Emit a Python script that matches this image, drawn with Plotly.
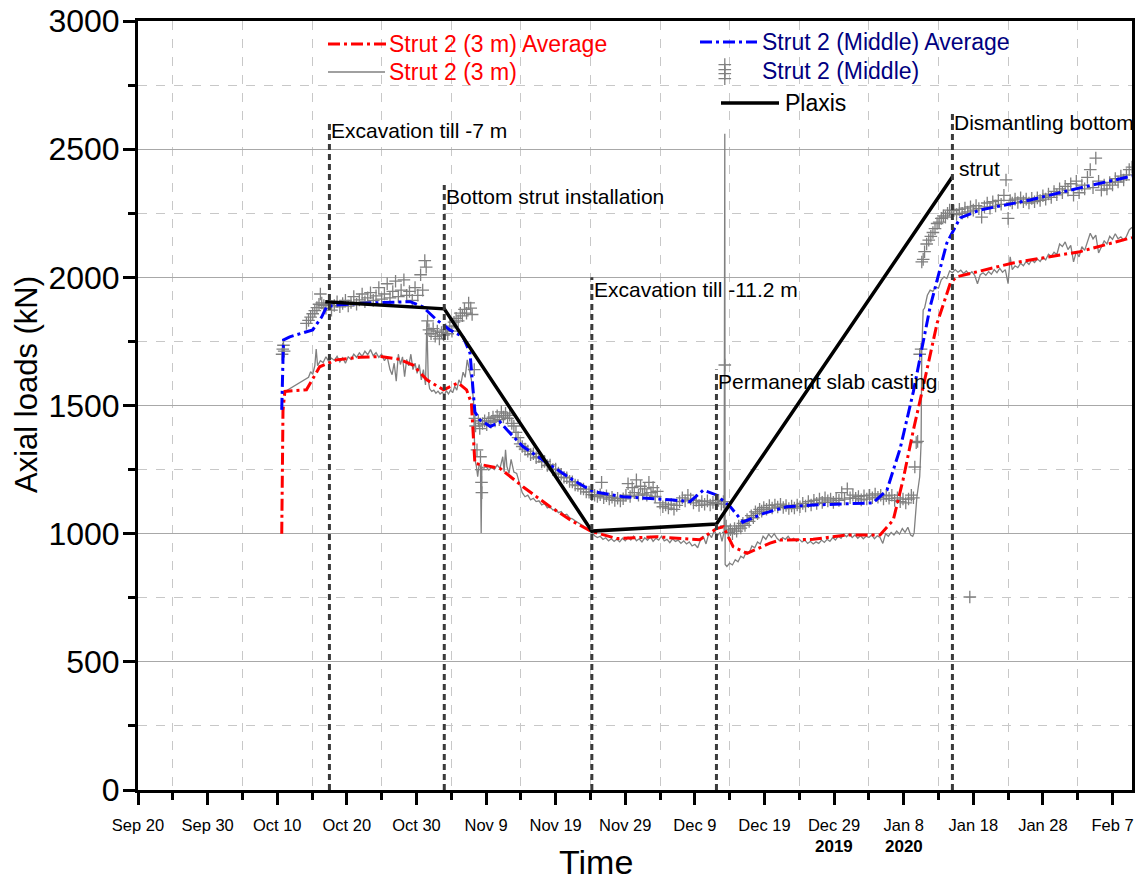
import pandas as pd
import plotly.graph_objects as go

START = pd.Timestamp("2019-09-20")
X_END_DAY = 142.8
FONT = "Liberation Sans, Arial, sans-serif"

# ---- data: (day offset from 2019-09-20, axial load kN) ----
AVG_3M = [(20.65, 1000), (20.83, 1480), (21.1, 1555), (24.2, 1561), (26.1, 1651), (28.5, 1678),
          (31.9, 1688), (34.8, 1691), (37.6, 1680), (39.5, 1658), (41.5, 1600), (43.9, 1561),
          (46.0, 1588), (47.2, 1561), (47.9, 1509), (48.4, 1274), (52.0, 1255), (55.3, 1183),
          (59.2, 1105), (62.5, 1047), (65.2, 1008), (68.8, 981), (74.5, 988), (80.7, 976),
          (83.1, 1020), (84.1, 1027), (85.5, 949), (87.5, 923), (90.8, 963), (92.2, 975),
          (97.0, 978), (101.8, 995), (106.6, 995), (108.5, 1053), (109.9, 1209), (111.4, 1405),
          (112.8, 1573), (114.8, 1821), (116.7, 1977), (117.6, 2002), (125.7, 2056),
          (135.3, 2100), (142.8, 2155)]

AVG_MID = [(20.65, 1483), (20.9, 1756), (21.8, 1768), (23.7, 1782), (25.1, 1795), (26.4, 1846),
           (27.1, 1885), (28.5, 1892), (33.3, 1900), (39.1, 1905), (40.9, 1885), (42.9, 1834),
           (44.8, 1795), (46.7, 1768), (47.7, 1704), (48.4, 1475), (49.1, 1444), (50.6, 1418),
           (52.0, 1436), (53.0, 1405), (55.3, 1340), (59.2, 1268), (62.5, 1209), (65.4, 1164),
           (69.7, 1144), (76.9, 1131), (79.3, 1125), (81.2, 1170), (83.1, 1151), (85.1, 1105),
           (86.9, 1045), (89.8, 1078), (93.2, 1105), (97.0, 1112), (101.8, 1118), (105.6, 1120),
           (107.6, 1170), (109.5, 1333), (111.4, 1555), (113.8, 1885), (116.2, 2134),
           (118.1, 2232), (121.0, 2263), (128.2, 2302), (135.3, 2349), (142.8, 2395)]

PLAXIS = [(26.9, 1905), (44.0, 1877), (65.2, 1010), (83.1, 1038), (117.0, 2392)]

RAW_3M = [(21.0, 1545), (21.2, 1556), (24.5, 1610), (24.8, 1632), (25.1, 1622), (25.4, 1655),
          (25.6, 1720), (25.8, 1655), (26.2, 1675), (26.6, 1668), (27.0, 1690), (27.4, 1672),
          (27.8, 1685), (28.2, 1676), (28.6, 1692), (29.0, 1670), (29.4, 1686), (29.8, 1665),
          (30.2, 1690), (30.6, 1680), (31.0, 1700), (31.4, 1688), (31.8, 1705), (32.2, 1692),
          (32.6, 1712), (33.0, 1698), (33.4, 1718), (33.8, 1694), (34.2, 1706), (34.6, 1688),
          (35.0, 1700), (35.4, 1675), (35.8, 1690), (36.2, 1640), (36.5, 1620), (36.8, 1665),
          (37.1, 1595), (37.4, 1700), (37.7, 1660), (38.0, 1690), (38.3, 1612), (38.6, 1680),
          (38.9, 1655), (39.2, 1700), (39.5, 1640), (39.8, 1665), (40.1, 1625), (40.4, 1660),
          (40.7, 1600), (41.0, 1640), (41.3, 1580), (41.5, 1830), (41.7, 1600), (41.9, 1565),
          (42.2, 1555), (42.5, 1560), (42.8, 1548), (43.1, 1556), (43.4, 1545), (43.7, 1552),
          (44.0, 1540), (44.3, 1558), (44.6, 1545), (44.9, 1560), (45.2, 1550), (45.5, 1575),
          (45.8, 1560), (46.1, 1600), (46.4, 1585), (46.7, 1630), (47.0, 1610), (47.3, 1678),
          (47.6, 1640), (47.9, 1600), (48.2, 1520), (48.4, 1290), (48.6, 1265), (48.8, 1222),
          (49.0, 1270), (49.2, 1262), (49.3, 1003), (49.4, 1260), (49.7, 1255), (50.0, 1262),
          (50.4, 1248), (50.8, 1258), (51.2, 1250), (51.6, 1268), (52.0, 1255), (52.4, 1300),
          (52.6, 1240), (52.8, 1327), (53.0, 1262), (53.3, 1235), (53.6, 1290), (54.0, 1240),
          (54.4, 1235), (54.8, 1200), (55.2, 1160), (55.6, 1144), (56.0, 1150), (56.4, 1132),
          (56.8, 1138), (57.2, 1125), (57.6, 1128), (58.0, 1112), (58.4, 1118), (58.8, 1100),
          (59.2, 1105), (59.6, 1092), (60.0, 1096), (60.4, 1082), (60.8, 1086), (61.2, 1072),
          (61.6, 1076), (62.0, 1062), (62.4, 1058), (62.8, 1050), (63.2, 1044), (63.6, 1036),
          (64.0, 1030), (64.4, 1020), (64.8, 1012), (65.2, 1005), (65.6, 992), (66.0, 985),
          (66.4, 990), (66.8, 978), (67.2, 984), (67.6, 972), (68.0, 980), (68.4, 970),
          (68.8, 978), (69.2, 968), (69.6, 982), (70.0, 972), (70.4, 986), (70.8, 975),
          (71.2, 990), (71.6, 972), (72.0, 980), (72.4, 968), (72.8, 984), (73.2, 974),
          (73.6, 988), (74.0, 970), (74.4, 982), (74.8, 975), (75.2, 990), (75.6, 972),
          (76.0, 978), (76.4, 965), (76.8, 980), (77.2, 970), (77.6, 975), (78.0, 962),
          (78.4, 972), (78.8, 960), (79.2, 968), (79.6, 952), (80.0, 958), (80.4, 945),
          (80.8, 975), (81.2, 990), (81.6, 960), (82.0, 1000), (82.4, 985), (82.8, 1012),
          (83.2, 990), (83.6, 1005), (83.9, 970), (84.2, 1008), (84.3, 2560), (84.35, 880),
          (84.6, 872), (85.0, 885), (85.4, 878), (85.8, 898), (86.2, 890), (86.6, 912),
          (87.0, 905), (87.4, 930), (87.8, 925), (88.2, 952), (88.6, 945), (89.0, 968),
          (89.4, 960), (89.8, 990), (90.2, 978), (90.6, 998), (91.0, 985), (91.4, 1000),
          (91.8, 982), (92.2, 972), (92.6, 985), (93.0, 978), (93.4, 990), (93.8, 975),
          (94.2, 982), (94.6, 970), (95.0, 978), (95.4, 968), (95.8, 975), (96.2, 962),
          (96.6, 970), (97.0, 960), (97.4, 968), (97.8, 962), (98.2, 975), (98.6, 966),
          (99.0, 978), (99.4, 970), (99.8, 985), (100.2, 975), (100.6, 990), (101.0, 982),
          (101.4, 998), (101.8, 988), (102.2, 1000), (102.6, 985), (103.0, 995), (103.4, 982),
          (103.8, 992), (104.2, 980), (104.6, 990), (105.0, 985), (105.4, 995), (105.8, 980),
          (106.2, 992), (106.6, 985), (107.0, 962), (107.4, 1000), (107.8, 990), (108.2, 1005),
          (108.6, 995), (109.0, 1010), (109.4, 998), (109.8, 1020), (110.2, 1005), (110.6, 1025),
          (111.0, 995), (111.3, 990), (111.5, 1003), (111.9, 1144), (112.3, 1222), (112.5, 1353),
          (112.6, 1717), (112.8, 1873), (113.0, 1880), (113.4, 1930), (113.8, 1950),
          (114.2, 1945), (114.6, 1962), (115.0, 1958), (115.4, 1990), (115.8, 2002),
          (116.2, 1995), (116.6, 2025), (117.0, 2018), (117.4, 2030), (117.8, 2020),
          (118.2, 2028), (118.6, 2015), (119.0, 2025), (119.4, 2012), (119.8, 2022),
          (120.2, 2008), (120.6, 1975), (121.0, 2010), (121.4, 2018), (121.8, 2008),
          (122.2, 2022), (122.6, 2012), (123.0, 2030), (123.4, 2018), (123.8, 2035),
          (124.2, 2020), (124.6, 2030), (125.0, 1975), (125.3, 2080), (125.6, 2030),
          (126.0, 2045), (126.4, 2038), (126.8, 2055), (127.2, 2045), (127.6, 2062),
          (128.0, 2050), (128.4, 2068), (128.8, 2058), (129.2, 2072), (129.6, 2062),
          (130.0, 2078), (130.4, 2068), (130.8, 2090), (131.2, 2082), (131.6, 2098),
          (132.0, 2088), (132.4, 2130), (132.8, 2120), (133.2, 2138), (133.6, 2108),
          (134.0, 2125), (134.4, 2060), (134.8, 2100), (135.2, 2080), (135.6, 2120),
          (136.0, 2105), (136.4, 2135), (136.8, 2172), (137.2, 2150), (137.6, 2165),
          (138.0, 2095), (138.4, 2120), (138.8, 2142), (139.2, 2130), (139.6, 2160),
          (140.0, 2148), (140.4, 2170), (140.8, 2150), (141.2, 2158), (141.6, 2145),
          (142.0, 2160), (142.4, 2185), (142.8, 2195)]

RAW_MID = [(20.7, 1700), (20.8, 1720), (20.9, 1735), (21.0, 1712),
           (24.2, 1820), (24.5, 1832), (24.8, 1845), (25.1, 1858), (25.4, 1870), (25.7, 1882),
           (26.0, 1895), (26.2, 1935), (26.4, 1900), (26.7, 1890), (27.0, 1880), (27.4, 1895),
           (27.8, 1872), (28.2, 1890), (28.6, 1905), (29.0, 1885), (29.4, 1898), (29.8, 1910),
           (30.2, 1888), (30.6, 1902), (31.0, 1925), (31.4, 1895), (31.8, 1912), (32.2, 1935),
           (32.6, 1905), (33.0, 1920), (33.4, 1940), (33.8, 1910), (34.2, 1928), (34.6, 1960),
           (35.0, 1915), (35.4, 1935), (35.8, 1975), (36.2, 1920), (36.6, 1945), (37.0, 1985),
           (37.4, 1925), (37.8, 1950), (38.2, 1990), (38.6, 1930), (39.0, 1945), (39.4, 1910),
           (39.8, 1960), (40.2, 1930), (40.6, 2010), (40.9, 1950), (41.2, 2065), (41.4, 2040),
           (41.6, 1830), (41.8, 1795), (42.1, 1780), (42.4, 1800), (42.7, 1770), (43.0, 1790),
           (43.3, 1760), (43.6, 1785), (43.9, 1775), (44.2, 1795), (44.5, 1780), (44.8, 1810),
           (45.1, 1790), (45.4, 1825), (45.7, 1840), (46.0, 1830), (46.3, 1860), (46.6, 1850),
           (46.9, 1875), (47.2, 1860), (47.5, 1900), (47.8, 1880), (48.0, 1855), (48.3, 1640),
           (48.4, 1450), (48.5, 1420), (48.7, 1327), (48.9, 1440), (49.1, 1410), (49.2, 1300),
           (49.3, 1250), (49.35, 1200), (49.4, 1160), (49.5, 1430), (49.8, 1440), (50.1, 1425),
           (50.4, 1450), (50.7, 1435), (51.0, 1455), (51.3, 1440), (51.6, 1460), (51.9, 1445),
           (52.2, 1475), (52.5, 1455), (52.8, 1470), (53.1, 1450), (53.4, 1462), (53.7, 1430),
           (54.0, 1420), (54.3, 1395), (54.6, 1375), (54.9, 1350), (55.2, 1340), (55.6, 1330),
           (56.0, 1322), (56.4, 1308), (56.8, 1312), (57.2, 1296), (57.6, 1300), (58.0, 1280),
           (58.4, 1282), (58.8, 1266), (59.2, 1268), (59.6, 1250), (60.0, 1252), (60.4, 1236),
           (60.8, 1232), (61.2, 1220), (61.6, 1218), (62.0, 1204), (62.4, 1202), (62.8, 1190),
           (63.2, 1188), (63.6, 1176), (64.0, 1174), (64.4, 1163), (64.8, 1162), (65.2, 1152),
           (65.6, 1150), (66.0, 1145), (66.4, 1152), (66.6, 1200), (66.9, 1140), (67.3, 1148),
           (67.7, 1135), (68.1, 1142), (68.5, 1130), (68.9, 1138), (69.3, 1128), (69.7, 1136),
           (70.1, 1150), (70.4, 1195), (70.7, 1145), (71.0, 1180), (71.3, 1160), (71.6, 1210),
           (71.9, 1150), (72.2, 1185), (72.5, 1155), (72.8, 1175), (73.1, 1150), (73.4, 1200),
           (73.7, 1160), (74.0, 1180), (74.3, 1145), (74.6, 1165), (75.0, 1120), (75.4, 1105),
           (75.8, 1112), (76.2, 1100), (76.6, 1115), (77.0, 1095), (77.4, 1110), (77.8, 1125),
           (78.2, 1140), (78.6, 1128), (79.0, 1150), (79.4, 1135), (79.8, 1120), (80.2, 1130),
           (80.6, 1110), (81.0, 1125), (81.4, 1115), (81.8, 1128), (82.2, 1112), (82.6, 1122),
           (83.0, 1118), (83.4, 1130), (83.8, 1115), (84.1, 1125), (84.3, 1658), (84.3, 2775),
           (84.3, 2795), (84.3, 2810), (84.3, 2830), (84.5, 1030), (84.8, 1005), (85.1, 1015),
           (85.4, 1000), (85.7, 1020), (86.0, 1010), (86.3, 1030), (86.6, 1022), (86.9, 1040),
           (87.2, 1032), (87.5, 1055), (87.8, 1048), (88.1, 1070), (88.4, 1062), (88.7, 1085),
           (89.0, 1078), (89.3, 1095), (89.6, 1088), (89.9, 1102), (90.3, 1095), (90.7, 1110),
           (91.1, 1100), (91.5, 1112), (91.9, 1104), (92.3, 1115), (92.7, 1102), (93.1, 1110),
           (93.5, 1098), (93.9, 1108), (94.3, 1100), (94.7, 1112), (95.1, 1105), (95.5, 1118),
           (95.9, 1108), (96.3, 1125), (96.7, 1112), (97.1, 1130), (97.5, 1118), (97.9, 1135),
           (98.3, 1122), (98.7, 1140), (99.1, 1128), (99.5, 1135), (99.9, 1122), (100.3, 1138),
           (100.7, 1130), (101.1, 1160), (101.5, 1135), (101.9, 1175), (102.3, 1140),
           (102.7, 1150), (103.1, 1138), (103.5, 1145), (103.9, 1132), (104.3, 1148),
           (104.7, 1135), (105.1, 1150), (105.5, 1140), (105.9, 1155), (106.3, 1142),
           (106.7, 1150), (107.1, 1135), (107.5, 1148), (107.9, 1138), (108.3, 1150),
           (108.7, 1130), (109.1, 1140), (109.5, 1125), (109.9, 1135), (110.3, 1120),
           (110.7, 1135), (111.1, 1150), (111.4, 1140), (111.6, 1260), (111.8, 1355),
           (112.0, 1360), (112.3, 1700), (112.5, 1720), (112.6, 2060), (112.8, 2070),
           (113.0, 2100), (113.3, 2130), (113.6, 2145), (113.9, 2160), (114.2, 2175),
           (114.5, 2190), (114.8, 2210), (115.1, 2215), (115.4, 2230), (115.7, 2240),
           (116.0, 2235), (116.3, 2250), (116.6, 2262), (116.9, 2248), (117.2, 2260),
           (117.6, 2245), (118.0, 2265), (118.4, 2250), (118.8, 2270), (119.2, 2255),
           (119.5, 753), (119.6, 2275), (120.0, 2262), (120.4, 2280), (120.8, 2268),
           (121.2, 2235), (121.6, 2275), (122.0, 2290), (122.4, 2270), (122.8, 2295),
           (123.2, 2278), (123.6, 2300), (124.0, 2285), (124.4, 2320), (124.7, 2380),
           (125.0, 2230), (125.3, 2300), (125.6, 2290), (126.0, 2305), (126.4, 2292),
           (126.8, 2310), (127.2, 2295), (127.6, 2305), (128.0, 2290), (128.4, 2308),
           (128.8, 2295), (129.2, 2310), (129.6, 2300), (130.0, 2318), (130.4, 2305),
           (130.8, 2325), (131.2, 2312), (131.6, 2335), (132.0, 2322), (132.4, 2345),
           (132.8, 2330), (133.2, 2355), (133.6, 2340), (134.0, 2365), (134.4, 2320),
           (134.8, 2375), (135.2, 2330), (135.6, 2360), (136.0, 2345), (136.4, 2390),
           (136.8, 2420), (137.2, 2350), (137.6, 2465), (138.0, 2375), (138.4, 2340),
           (138.8, 2360), (139.2, 2345), (139.6, 2370), (140.0, 2360), (140.4, 2385),
           (140.8, 2372), (141.2, 2395), (141.6, 2380), (142.0, 2400), (142.4, 2420),
           (142.8, 2430)]

EVENT_DAYS = [27.5, 44.0, 65.2, 83.1, 117.0]
EVENT_TOPS = [2600, 2360, 2000, 1640, 2650]
EVENT_LABELS = ["Excavation till -7 m", "Bottom strut installation",
                "Excavation till -11.2 m", "Permanent slab casting", "Dismantling bottom"]
EVENT_LABEL_Y = [2571, 2314, 1951, 1592, 2606]
EXTRA_LABEL = ("strut", 117.7, 2423)

Y_TICKS = [0, 500, 1000, 1500, 2000, 2500, 3000]
YEAR_LABELS = [("2019", "2019-12-29"), ("2020", "2020-01-08")]

RED = "#ff0000"
BLUE = "#0000ff"
NAVY = "#000080"
GRAY = "#808080"
DASHDOT = "12px,4px,3px,4px"

# plot-area geometry in px (for the hand-made legend key)
PL, PR, PT, PB = 138, 1132, 21, 790


def px_x(px):
    return (px - PL) / (PR - PL)


def px_y(py):
    return (PB - py) / (PB - PT)


def dates(pairs):
    return [START + pd.Timedelta(days=d) for d, _ in pairs]


def vals(pairs):
    return [v for _, v in pairs]


def day(d):
    return START + pd.Timedelta(days=d)


fig = go.Figure()

fig.add_trace(go.Scatter(x=dates(RAW_3M), y=vals(RAW_3M), mode="lines",
                         line=dict(color=GRAY, width=1.3), name="Strut 2 (3 m)"))
fig.add_trace(go.Scatter(x=dates(RAW_MID), y=vals(RAW_MID), mode="markers",
                         marker=dict(symbol="cross-thin", size=9, color=GRAY,
                                     line=dict(color=GRAY, width=1.3)),
                         name="Strut 2 (Middle)"))
fig.add_trace(go.Scatter(x=dates(AVG_3M), y=vals(AVG_3M), mode="lines",
                         line=dict(color=RED, width=3, dash=DASHDOT),
                         name="Strut 2 (3 m) Average"))
fig.add_trace(go.Scatter(x=dates(AVG_MID), y=vals(AVG_MID), mode="lines",
                         line=dict(color=BLUE, width=3, dash=DASHDOT),
                         name="Strut 2 (Middle) Average"))
fig.add_trace(go.Scatter(x=dates(PLAXIS), y=vals(PLAXIS), mode="lines",
                         line=dict(color="#000000", width=3.5), name="Plaxis"))

shapes = []
annotations = []
for d, top, lab, ly in zip(EVENT_DAYS, EVENT_TOPS, EVENT_LABELS, EVENT_LABEL_Y):
    shapes.append(dict(type="line", xref="x", yref="y", x0=day(d), x1=day(d), y0=0, y1=top,
                       line=dict(color="#3a3a3a", width=3, dash="6px,4px")))
    annotations.append(dict(x=day(d), y=ly, xref="x", yref="y", text=lab, showarrow=False,
                            xanchor="left", yanchor="middle",
                            font=dict(family=FONT, size=21, color="black")))
annotations.append(dict(x=day(EXTRA_LABEL[1]), y=EXTRA_LABEL[2], xref="x", yref="y",
                        text=EXTRA_LABEL[0], showarrow=False, xanchor="left", yanchor="middle",
                        font=dict(family=FONT, size=21, color="black")))

# legend key (two columns + Plaxis), laid out like the original figure
LEGEND = [
    ("Strut 2 (3 m) Average", RED, dict(color=RED, width=3, dash=DASHDOT), 328, 388, 44, 387),
    ("Strut 2 (3 m)", RED, dict(color=GRAY, width=1.3), 328, 385, 72, 387),
    ("Strut 2 (Middle) Average", NAVY, dict(color=BLUE, width=3, dash=DASHDOT), 700, 757, 42, 760),
    ("Strut 2 (Middle)", NAVY, None, 0, 0, 71, 760),
    ("Plaxis", "black", dict(color="black", width=3.5), 721, 779, 103, 783),
]
for name, tcol, lstyle, x0, x1, ly, tx in LEGEND:
    if lstyle is not None:
        shapes.append(dict(type="line", xref="paper", yref="paper", x0=px_x(x0), x1=px_x(x1),
                           y0=px_y(ly), y1=px_y(ly), line=lstyle))
    annotations.append(dict(x=px_x(tx), y=px_y(ly), xref="paper", yref="paper", text=name,
                            showarrow=False, xanchor="left", yanchor="middle",
                            font=dict(family=FONT, size=23, color=tcol)))

for txt, dt in YEAR_LABELS:
    annotations.append(dict(x=dt, y=px_y(846), xref="x", yref="paper", text="<b>%s</b>" % txt,
                            showarrow=False, xanchor="center", yanchor="middle", height=18,
                            font=dict(family=FONT, size=17, color="black")))
annotations.append(dict(x=px_x(596), y=px_y(862), xref="paper", yref="paper", text="Time",
                        showarrow=False, xanchor="center", yanchor="middle", height=28,
                        font=dict(family=FONT, size=34, color="black")))
annotations.append(dict(x=px_x(27), y=px_y(385), xref="paper", yref="paper",
                        text="Axial loads (kN)", showarrow=False, xanchor="center",
                        yanchor="middle", textangle=-90,
                        font=dict(family=FONT, size=31, color="black")))

DAY_MS = 86400000
fig.update_layout(
    width=1142, height=881,
    margin=dict(l=PL, r=1142 - PR, t=PT, b=881 - PB, autoexpand=False),
    paper_bgcolor="white", plot_bgcolor="white",
    font=dict(family=FONT, color="black"),
    showlegend=False,
    shapes=shapes, annotations=annotations,
    xaxis=dict(type="date", range=[START, day(X_END_DAY)],
               tick0="2019-09-20", dtick=10 * DAY_MS, tickformat="%b %-d",
               ticks="outside", ticklen=12, tickwidth=2.5, tickcolor="black",
               tickfont=dict(family=FONT, size=16.5, color="black"), ticklabelstandoff=6,
               showline=True, linewidth=3, linecolor="black", mirror=True,
               showgrid=False, zeroline=False,
               minor=dict(tick0="2019-09-20", dtick=5 * DAY_MS, ticks="outside", ticklen=7,
                          tickwidth=2.5, tickcolor="black", showgrid=True,
                          gridcolor="#c8c8c8", griddash="dash", gridwidth=1)),
    yaxis=dict(range=[0, 3000], tickvals=Y_TICKS, ticks="outside", ticklen=12, tickwidth=2.5,
               tickcolor="black", tickfont=dict(family=FONT, size=32, color="black"),
               ticklabelstandoff=-3,
               showline=True, linewidth=3, linecolor="black", mirror=True,
               showgrid=True, gridcolor="#a8a8a8", gridwidth=1.3, zeroline=False,
               minor=dict(dtick=250, ticks="outside", ticklen=7, tickwidth=2.5,
                          tickcolor="black", showgrid=True, gridcolor="#c8c8c8",
                          griddash="dash", gridwidth=1)),
)

fig.write_html("out.html")
